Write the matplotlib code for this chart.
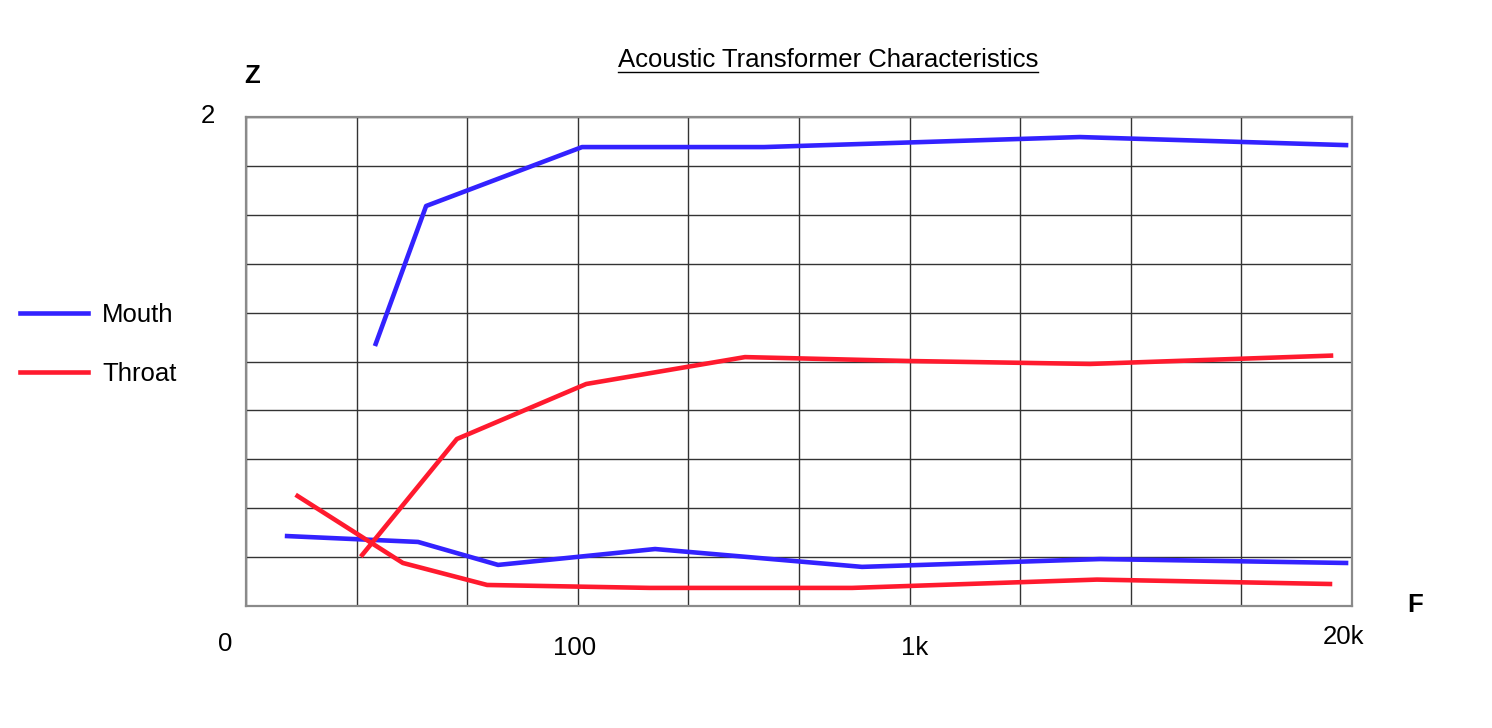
import numpy as np
import matplotlib
matplotlib.use("Agg")
import matplotlib.pyplot as plt
from matplotlib.lines import Line2D

plt.rcParams['font.family'] = ['Liberation Sans', 'DejaVu Sans']

# frequencies (Hz) and impedance values
mouth_hi_f = [24.6, 34.9, 103, 364, 3260, 20670]
mouth_hi_z = [1.072, 1.636, 1.877, 1.877, 1.918, 1.885]

mouth_lo_f = [13.3, 33.0, 57.5, 171, 719, 3750, 20670]
mouth_lo_z = [0.286, 0.262, 0.168, 0.233, 0.160, 0.192, 0.176]

throat_hi_f = [22.4, 43.2, 106, 319, 996, 3500, 18620]
throat_hi_z = [0.209, 0.683, 0.908, 1.018, 1.002, 0.990, 1.024]

throat_lo_f = [14.3, 29.7, 53.3, 165, 671, 3670, 18490]
throat_lo_z = [0.450, 0.176, 0.086, 0.074, 0.074, 0.108, 0.090]

# 10 columns, three per decade, starting at 10 Hz
x_grid = [10 * 10 ** (k / 3) for k in range(11)]
y_grid = np.linspace(0, 2, 11)

blue = '#3322FF'
red = '#FF1A2E'

W, H = 1492, 728
fig = plt.figure(figsize=(W / 100, H / 100), dpi=100)
ax = fig.add_axes([246 / W, 1 - 606 / H, 1106 / W, 489 / H])

ax.set_xscale('log')
ax.set_xlim(x_grid[0], x_grid[-1])
ax.set_ylim(0, 2)
ax.set_xticks(x_grid)
ax.set_xticks([], minor=True)
ax.set_yticks(y_grid)
ax.set_xticklabels([])
ax.set_yticklabels([])
ax.tick_params(length=0)
ax.grid(True, color='#333333', lw=1.0)
for s in ax.spines.values():
    s.set_color('#8a8a8a')
    s.set_linewidth(1.6)

ax.plot(mouth_hi_f, mouth_hi_z, color=blue, lw=3.3, label='Mouth')
ax.plot(mouth_lo_f, mouth_lo_z, color=blue, lw=3.3)
ax.plot(throat_hi_f, throat_hi_z, color=red, lw=3.3, label='Throat')
ax.plot(throat_lo_f, throat_lo_z, color=red, lw=3.3)

fs = 18.5

def ftext(px, py, s, **kw):
    return fig.text(px / W, 1 - py / H, s, ha='center', va='center', fontsize=fs, **kw)

ftext(208, 116, '2')
ftext(225, 644, '0')
ftext(575, 648, '100')
ftext(915, 648, '1k')
ftext(1344, 637, '20k')
ftext(252, 76, 'Z', fontweight='bold')
ftext(1415, 605, 'F', fontweight='bold')

title = ftext(828, 60, 'Acoustic Transformer Characteristics')

fig.legend(loc='upper left', bbox_to_anchor=(20 / W, 1 - 303 / H), frameon=False,
           fontsize=fs, handlelength=2.65, handletextpad=0.55, labelspacing=1.35,
           borderpad=0, borderaxespad=0)

# underline the title
fig.canvas.draw()
bb = title.get_window_extent()
uy = 1 - 72 / H
fig.add_artist(Line2D([bb.x0 / W, bb.x1 / W], [uy, uy], color='black', lw=1.0,
                      transform=fig.transFigure))

fig.savefig('out.png', dpi=100)
